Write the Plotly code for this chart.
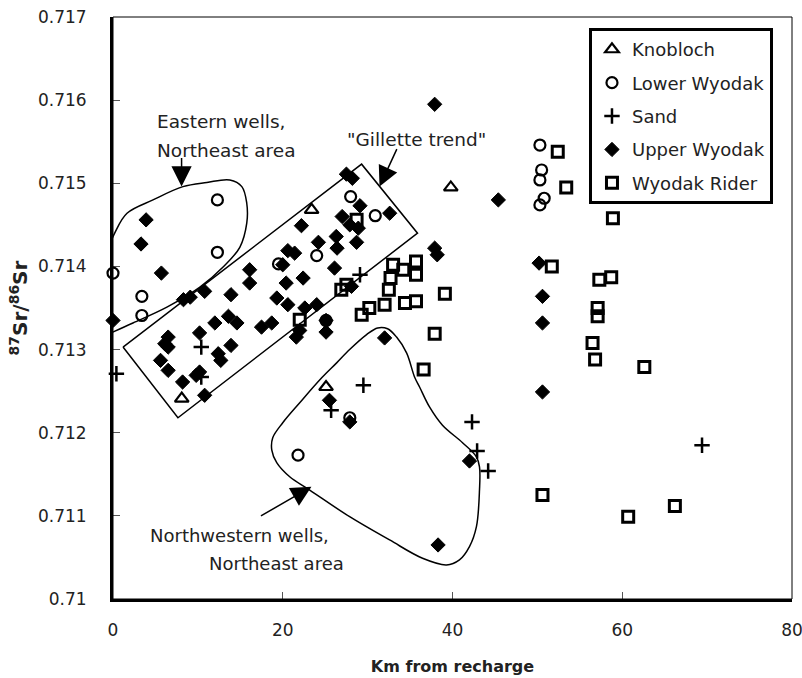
import plotly.graph_objects as go

# ---- Sr isotope data by coal unit (x: km from recharge, y: 87Sr/86Sr) ----
knob_x = [23.4, 39.8, 8.1, 25.1]
knob_y = [0.71468, 0.71495, 0.71241, 0.71255]

lower_x = [0.0, 3.4, 3.4, 12.3, 12.3, 19.5, 24.0, 28.0, 30.9, 25.1, 21.8, 27.9,
           50.3, 50.5, 50.3, 50.8, 50.3]
lower_y = [0.71392, 0.71364, 0.71341, 0.71480, 0.71417, 0.71403, 0.71413, 0.71484,
           0.71461, 0.71335, 0.71173, 0.71218, 0.71546, 0.71516, 0.71504, 0.71482,
           0.71474]

sand_x = [0.4, 10.4, 10.4, 29.1, 29.5, 25.7, 42.3, 42.9, 44.2, 69.4]
sand_y = [0.71271, 0.71303, 0.71267, 0.71390, 0.71257, 0.71227, 0.71213, 0.71178,
          0.71154, 0.71185]

upper_x = [3.9, 3.3, 5.7, 0.0, 8.3, 9.1, 10.8, 16.1, 16.1, 13.9, 19.3, 20.6, 20.4,
           22.4, 20.6, 21.4, 22.2, 24.2, 26.3, 26.4, 26.1, 27.0, 20.0, 22.6, 24.0,
           12.0, 13.6, 14.6, 17.5, 18.7, 21.6, 22.0, 25.1, 6.5, 6.1, 6.5, 10.2,
           13.9, 12.4, 12.7, 5.6, 6.5, 8.2, 9.8, 10.2, 10.8, 27.5, 28.2, 29.1,
           32.6, 27.9, 28.9, 28.7, 28.1, 25.1, 37.9, 38.2, 32.0, 45.4, 50.2, 50.6,
           50.6, 50.6, 42.0, 25.5, 27.9, 38.3, 37.9]
upper_y = [0.71456, 0.71427, 0.71392, 0.71335, 0.71360, 0.71363, 0.71370, 0.71396,
           0.71380, 0.71366, 0.71362, 0.71354, 0.71380, 0.71386, 0.71419, 0.71416,
           0.71449, 0.71429, 0.71436, 0.71422, 0.71398, 0.71460, 0.71402, 0.71350,
           0.71354, 0.71332, 0.71340, 0.71332, 0.71327, 0.71332, 0.71315, 0.71323,
           0.71321, 0.71315, 0.71307, 0.71303, 0.71320, 0.71305, 0.71295, 0.71287,
           0.71287, 0.71275, 0.71261, 0.71269, 0.71273, 0.71245, 0.71511, 0.71506,
           0.71473, 0.71464, 0.71450, 0.71446, 0.71429, 0.71376, 0.71335, 0.71422,
           0.71414, 0.71314, 0.71480, 0.71404, 0.71364, 0.71332, 0.71249, 0.71166,
           0.71239, 0.71213, 0.71065, 0.71595]

rider_x = [22.0, 26.9, 27.5, 28.7, 33.0, 34.2, 35.7, 35.7, 32.7, 32.5, 39.1, 32.0,
           34.4, 35.7, 29.3, 30.2, 37.9, 36.6, 52.4, 53.4, 58.9, 51.7, 57.3, 58.7,
           57.1, 57.1, 56.5, 56.8, 62.6, 50.6, 60.7, 66.2]
rider_y = [0.71336, 0.71372, 0.71378, 0.71456, 0.71402, 0.71396, 0.71406, 0.71390,
           0.71386, 0.71372, 0.71367, 0.71354, 0.71356, 0.71358, 0.71342, 0.71350,
           0.71319, 0.71276, 0.71538, 0.71495, 0.71458, 0.71400, 0.71384, 0.71387,
           0.71350, 0.71340, 0.71308, 0.71288, 0.71279, 0.71125, 0.71099, 0.71112]

x_ticks = [0, 20, 40, 60, 80]
y_ticks = [0.710, 0.711, 0.712, 0.713, 0.714, 0.715, 0.716, 0.717]
y_tick_text = ["0.71", "0.711", "0.712", "0.713", "0.714", "0.715", "0.716", "0.717"]

# ---- hand-drawn grouping outlines ----
east_x = [-0.7, -0.35, 0.24, 1.65, 4.71, 8.24, 11.06, 13.76, 15.18, 15.76, 15.76,
          14.94, 12.94, 10.24, 6.35, 2.35, -0.7]
east_y = [0.71405, 0.71426, 0.71441, 0.71464, 0.71480, 0.71496, 0.71501, 0.71504,
          0.71496, 0.71476, 0.71452, 0.71423, 0.71399, 0.71375, 0.71351, 0.71332,
          0.71318]

gil_x = [1.18, 29.29, 35.88, 7.65, 1.18]
gil_y = [0.71303, 0.71523, 0.71440, 0.71218, 0.71303]

nw_x = [20.0, 18.82, 18.71, 19.29, 20.82, 23.18, 27.88, 32.59, 36.47, 39.29, 40.82,
        42.0, 42.82, 43.18, 43.18, 42.82, 41.18, 38.82, 37.29, 36.12, 35.53, 34.59,
        33.41, 32.35, 31.18, 29.88, 27.88, 26.35, 24.59, 22.0, 20.0]
nw_y = [0.71212, 0.71194, 0.71179, 0.71164, 0.71147, 0.71131, 0.71099, 0.71071,
        0.71049, 0.71041, 0.71047, 0.71063, 0.71087, 0.71131, 0.71159, 0.71171,
        0.71188, 0.71209, 0.71231, 0.71255, 0.71267, 0.71296, 0.71315, 0.71325,
        0.71326, 0.71318, 0.71300, 0.71284, 0.71266, 0.71236, 0.71212]

FONT = "Verdana, DejaVu Sans, sans-serif"
INK = "black"
TXT = "#222"

fig = go.Figure()

outline = dict(color=INK, width=1.5)
fig.add_trace(go.Scatter(x=east_x, y=east_y, mode="lines",
                         line=dict(outline, shape="spline", smoothing=1.0),
                         showlegend=False, hoverinfo="skip"))
fig.add_trace(go.Scatter(x=gil_x, y=gil_y, mode="lines", line=outline,
                         showlegend=False, hoverinfo="skip"))
fig.add_trace(go.Scatter(x=nw_x, y=nw_y, mode="lines", fill="toself",
                         fillcolor="rgba(0,0,0,0)",
                         line=dict(outline, shape="spline", smoothing=1.0),
                         showlegend=False, hoverinfo="skip"))

series = [
    ("Knobloch", knob_x, knob_y,
     dict(symbol="triangle-up-open", size=12, color=INK, line=dict(color=INK, width=2.2))),
    ("Lower Wyodak", lower_x, lower_y,
     dict(symbol="circle-open", size=11, color=INK, line=dict(color=INK, width=2.2))),
    ("Sand", sand_x, sand_y,
     dict(symbol="cross-thin-open", size=11, color=INK, line=dict(color=INK, width=2.5))),
    ("Upper Wyodak", upper_x, upper_y,
     dict(symbol="diamond", size=11, color=INK, line=dict(color=INK, width=1))),
    ("Wyodak Rider", rider_x, rider_y,
     dict(symbol="square-open", size=11, color=INK, line=dict(color=INK, width=3))),
]
for name, xs, ys, mk in series:
    fig.add_trace(go.Scatter(x=xs, y=ys, mode="markers", name=name, marker=mk,
                             legendgroup=name, cliponaxis=False))

east_font = dict(family=FONT, size=18.5, color=TXT)
nw_font = dict(family=FONT, size=18, color=TXT)
annotations = [
    dict(x=4.94, y=0.71574, text="Eastern wells,", xanchor="left", font=east_font),
    dict(x=4.94, y=0.71540, text="Northeast area", xanchor="left", font=east_font),
    dict(x=35.73, y=0.71553, text="\"Gillette trend\"", xanchor="center", font=east_font),
    dict(x=25.65, y=0.71076, text="Northwestern wells,", xanchor="right", font=nw_font),
    dict(x=27.41, y=0.71043, text="Northeast area", xanchor="right", font=nw_font),
]
for a in annotations:
    fig.add_annotation(xref="x", yref="y", showarrow=False, yanchor="middle", **a)

arrows = [
    dict(x=8.08, y=0.71496, ax=0, ay=-30),
    dict(x=31.4, y=0.71496, ax=18, ay=-39),
    dict(x=23.38, y=0.71135, ax=-52, ay=30),
]
for a in arrows:
    fig.add_annotation(xref="x", yref="y", text="", showarrow=True, arrowhead=2,
                       arrowsize=2.7, arrowwidth=1.5, arrowcolor=INK, standoff=0, **a)

# thin frame on top/right
fig.add_shape(type="rect", xref="paper", yref="paper", x0=0, y0=0, x1=1, y1=1,
              line=dict(color=INK, width=1), layer="above")

fig.update_xaxes(range=[0, 80], tickvals=x_ticks, ticks="inside", ticklen=7,
                 tickcolor="#555", showline=True, linewidth=3, linecolor=INK,
                 showgrid=False, zeroline=False, ticklabelstandoff=14,
                 ticklabeloverflow="allow", automargin=False,
                 tickfont=dict(family=FONT, size=17, color=TXT),
                 title=dict(text="<b>Km from recharge</b>", standoff=22,
                            font=dict(family=FONT, size=16, color=TXT)),
                 layer="below traces")
fig.update_yaxes(range=[0.710, 0.717], tickvals=y_ticks, ticktext=y_tick_text,
                 ticks="inside", ticklen=7, tickcolor="#555", showline=True,
                 linewidth=3, linecolor=INK, showgrid=False, zeroline=False,
                 ticklabelstandoff=20, ticklabeloverflow="allow", automargin=False,
                 tickfont=dict(family=FONT, size=17, color=TXT),
                 title=dict(text="<b><sup>87</sup>Sr/<sup>86</sup>Sr</b>", standoff=5,
                            font=dict(family=FONT, size=20, color=TXT)),
                 layer="below traces")

fig.update_layout(
    width=802, height=678,
    margin=dict(l=113, r=10, t=17, b=79, autoexpand=False),
    paper_bgcolor="white", plot_bgcolor="white",
    font=dict(family=FONT, size=17, color=TXT),
    legend=dict(x=0.701, y=0.981, xanchor="left", yanchor="top",
                bgcolor="white", bordercolor=INK, borderwidth=3, itemwidth=30,
                entrywidth=163, entrywidthmode="pixels",
                tracegroupgap=7, font=dict(family=FONT, size=18, color=TXT)),
)

fig.write_html("out.html")
